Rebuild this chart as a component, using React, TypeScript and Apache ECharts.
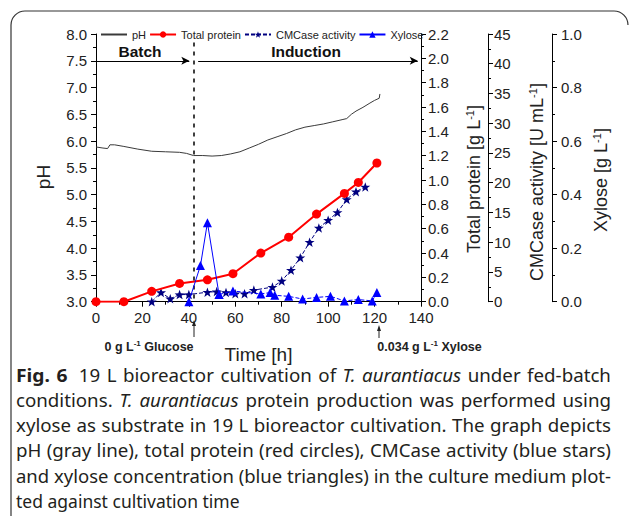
import React, { useEffect, useRef } from 'react';
import * as echarts from 'echarts';

// ---- Data ----
const legendNames = ['pH', 'Total protein', 'CMCase activity', 'Xylose'];

// [time h, pH]
const phData = [
  [0, 5.89], [3, 5.87], [5, 5.86], [6, 5.93], [8, 5.93], [12, 5.9], [18, 5.85], [24, 5.81],
  [30, 5.8], [36, 5.79], [39, 5.77], [42, 5.73], [46, 5.73], [50, 5.72], [54, 5.73], [58, 5.76],
  [62, 5.8], [66, 5.87], [70, 5.94], [74, 6.02], [78, 6.08], [82, 6.14], [86, 6.21], [90, 6.26],
  [94, 6.29], [98, 6.32], [102, 6.36], [106, 6.4], [108, 6.42], [110, 6.5], [112, 6.56],
  [115, 6.63], [118, 6.71], [120, 6.76], [122, 6.8], [122.3, 6.88],
];

// [time h, total protein g/L]
const proteinData = [
  [0, 0], [12, 0], [24, 0.085], [36, 0.15], [48, 0.18], [59, 0.23], [71, 0.4], [83, 0.53],
  [95, 0.72], [107, 0.89], [113, 0.98], [121, 1.14],
];

// [time h, CMCase activity U/mL]
const cmcaseData = [
  [24, 0], [28, 1.55], [32, 0.5], [36, 1.2], [40, 1.2], [48, 1.6], [52, 1.7], [56, 1.55],
  [60, 1.35], [64, 1.35], [68, 1.95], [76, 2.45], [80, 3.5], [84, 5.3], [88, 7.4], [92, 10.0],
  [96, 12.4], [100, 13.7], [104, 15.0], [108, 17.2], [112, 18.5], [116, 19.3],
];

// [time h, xylose g/L] — peak part (solid) and tail part (dashed)
const xylosePeak = [[40, 0], [45, 0.135], [48, 0.295], [53, 0.027]];
const xyloseTail = [
  [53, 0.027], [59, 0.04], [71, 0.029], [75, 0.034], [77, 0.024], [83, 0.02], [89, 0.01],
  [95, 0.016], [101, 0.02], [107, 0.003], [113, 0.008], [119, 0.003], [121, 0.034],
];

const glucoseDepletionTime = 42;
const phaseArrowY = 7.5;

const captionLines = [
  '{b|Fig. 6} 19 L bioreactor cultivation of {i|T. aurantiacus} under fed-batch',
  'conditions. {i|T. aurantiacus} protein production was performed using',
  'xylose as substrate in 19 L bioreactor cultivation. The graph depicts',
  'pH (gray line), total protein (red circles), CMCase activity (blue stars)',
  'and xylose concentration (blue triangles) in the culture medium plot-',
  'ted against cultivation time',
];

const STAR =
  'path://M0,-1L0.235,-0.324L0.951,-0.309L0.38,0.124L0.588,0.809L0,0.4L-0.588,0.809L-0.38,0.124L-0.951,-0.309L-0.235,-0.324Z';

const FONT = "'Liberation Sans', Arial, sans-serif";
const CAP_FONT = "'Noto Sans', 'Open Sans', sans-serif";
const CAP_SIZE = 17.5;
const CAP_BOLD_SIZE = 18;

type Word = { t: string; s: 'n' | 'b' | 'i' };

function parseLine(line: string): Word[] {
  const words: Word[] = [];
  const re = /\{(b|i)\|([^}]*)\}|([^{]+)/g;
  let m: RegExpExecArray | null;
  while ((m = re.exec(line))) {
    const s = (m[1] as 'b' | 'i') || 'n';
    const txt = m[2] !== undefined ? m[2] : m[3];
    txt.split(/\s+/).filter(Boolean).forEach((t) => words.push({ t, s }));
  }
  return words;
}

function fontOf(s: 'n' | 'b' | 'i') {
  if (s === 'b') return `bold ${CAP_BOLD_SIZE}px ${CAP_FONT}`;
  if (s === 'i') return `italic ${CAP_SIZE}px ${CAP_FONT}`;
  return `${CAP_SIZE}px ${CAP_FONT}`;
}

function buildCaption(left: number, right: number, top: number, lineGap: number) {
  const canvas = document.createElement('canvas');
  const ctx = canvas.getContext('2d')!;
  const els: any[] = [];
  const target = right - left;
  captionLines.forEach((line, li) => {
    const words = parseLine(line);
    const widths = words.map((w) => {
      ctx.font = fontOf(w.s);
      return ctx.measureText(w.t).width;
    });
    ctx.font = fontOf('n');
    const space = ctx.measureText(' ').width;
    // extra gap after the bold figure label
    const extra = words.map((w, i) => (w.s === 'b' && words[i + 1] && words[i + 1].s !== 'b' ? 5 : 0));
    const extraSum = extra.reduce((a, b) => a + b, 0);
    const sum = widths.reduce((a, b) => a + b, 0);
    const last = li === captionLines.length - 1;
    const natural = sum + space * (words.length - 1) + extraSum;
    const sx = last ? 1 : Math.min(1.07, Math.max(0.96, target / natural));
    const gap = last || words.length < 2 ? space : (target - sum * sx - extraSum) / (words.length - 1);
    let x = left;
    words.forEach((w, wi) => {
      els.push({
        type: 'text',
        x,
        y: top + li * lineGap,
        scaleX: sx,
        style: {
          text: w.t,
          fontSize: w.s === 'b' ? CAP_BOLD_SIZE : CAP_SIZE,
          fontWeight: w.s === 'b' ? 'bold' : 'normal',
          fontStyle: w.s === 'i' ? 'italic' : 'normal',
          fontFamily: CAP_FONT,
          fill: '#231f20',
          textAlign: 'left',
          textVerticalAlign: 'middle',
        },
      });
      x += widths[wi] * sx + gap + extra[wi];
    });
  });
  return els;
}

export default function App() {
  const ref = useRef<HTMLDivElement>(null);

  useEffect(() => {
    document.body.style.margin = '0';
    if (!ref.current) return;
    const chart = echarts.init(ref.current, null, { renderer: 'svg' });

    const axisCommon = {
      axisLine: { show: true, lineStyle: { color: '#000', width: 1 } },
      axisTick: { show: true, length: 5, lineStyle: { color: '#000' } },
      minorTick: { show: true, splitNumber: 2, length: 3, lineStyle: { color: '#000' } },
      splitLine: { show: false },
      axisLabel: { color: '#222', fontSize: 15, fontFamily: FONT },
    };

    const supRich = {
      n: { fontSize: 18, fontFamily: FONT, color: '#222', lineHeight: 20 },
      s: { fontSize: 11, fontFamily: FONT, color: '#222', verticalAlign: 'top', lineHeight: 20 },
    };

    const rotName = (text: string, x: number, y: number) => ({
      type: 'text',
      x,
      y,
      rotation: Math.PI / 2,
      style: {
        text,
        rich: supRich,
        fontSize: 18,
        fontFamily: FONT,
        fill: '#222',
        textAlign: 'center',
        textVerticalAlign: 'middle',
      },
    });

    const noteRich = {
      n: { fontSize: 12.5, fontWeight: 'bold', fontFamily: FONT, color: '#222', lineHeight: 15 },
      s: { fontSize: 8, fontWeight: 'bold', fontFamily: FONT, color: '#222', verticalAlign: 'top', lineHeight: 15 },
    };

    const option: any = {
      animation: false,
      grid: { left: 96, right: 208, top: 34, bottom: 223.3 },
      legend: {
        data: legendNames.map((n) => (n === 'pH' ? { name: n, itemStyle: { opacity: 0 } } : n)),
        left: 100,
        top: 29,
        padding: 0,
        itemGap: 3,
        itemWidth: 26,
        itemHeight: 8,
        textStyle: { fontSize: 11, fontFamily: FONT, color: '#222' },
      },
      xAxis: {
        type: 'value',
        min: 0,
        max: 140,
        interval: 20,
        name: 'Time [h]',
        nameLocation: 'middle',
        nameGap: 43,
        nameTextStyle: { fontSize: 19, fontFamily: FONT, color: '#222' },
        ...axisCommon,
        axisLabel: { ...axisCommon.axisLabel, margin: 8 },
      },
      yAxis: [
        {
          type: 'value',
          position: 'left',
          min: 3,
          max: 8,
          interval: 0.5,
          ...axisCommon,
          axisLabel: { ...axisCommon.axisLabel, margin: 9, formatter: (v: number) => v.toFixed(1) },
        },
        {
          type: 'value',
          position: 'right',
          min: 0,
          max: 2.2,
          interval: 0.2,
          offset: 0,
          ...axisCommon,
          axisLabel: { ...axisCommon.axisLabel, margin: 7, formatter: (v: number) => v.toFixed(1) },
        },
        {
          type: 'value',
          position: 'right',
          min: 0,
          max: 45,
          interval: 5,
          offset: 67,
          ...axisCommon,
          axisLabel: { ...axisCommon.axisLabel, margin: 6, formatter: (v: number) => String(Math.round(v)) },
        },
        {
          type: 'value',
          position: 'right',
          min: 0,
          max: 1,
          interval: 0.2,
          offset: 131,
          ...axisCommon,
          axisLabel: { ...axisCommon.axisLabel, margin: 9, formatter: (v: number) => v.toFixed(1) },
        },
      ],
      series: [
        {
          name: 'pH',
          type: 'line',
          yAxisIndex: 0,
          data: phData,
          symbol: 'none',
          showSymbol: false,
          lineStyle: { color: '#3a3a3a', width: 1 },
          itemStyle: { color: '#3a3a3a' },
          z: 2,
          markLine: {
            silent: true,
            symbol: ['none', 'arrow'],
            symbolSize: [6, 8],
            label: { show: false },
            lineStyle: { color: '#000', width: 1, type: 'solid' },
            data: [
              [{ coord: [0, phaseArrowY] }, { coord: [40.2, phaseArrowY] }],
              [{ coord: [44, phaseArrowY] }, { coord: [138.6, phaseArrowY] }],
            ],
          },
        },
        {
          name: 'Total protein',
          type: 'line',
          yAxisIndex: 1,
          data: proteinData,
          symbol: 'circle',
          symbolSize: 9,
          lineStyle: { color: '#ff0000', width: 2 },
          itemStyle: { color: '#ff0000' },
          z: 4,
          markLine: {
            silent: true,
            symbol: 'none',
            label: { show: false },
            lineStyle: { color: '#000', width: 1.5, type: [4, 5] },
            data: [[{ coord: [glucoseDepletionTime, 2.13] }, { coord: [glucoseDepletionTime, 0] }]],
          },
        },
        {
          name: 'CMCase activity',
          type: 'line',
          yAxisIndex: 2,
          data: cmcaseData,
          symbol: STAR,
          symbolKeepAspect: true,
          symbolSize: 10,
          lineStyle: { color: '#000080', width: 1, type: [4, 2] },
          itemStyle: { color: '#000080' },
          z: 3,
        },
        {
          name: 'Xylose',
          type: 'line',
          yAxisIndex: 3,
          data: xylosePeak,
          symbol: 'triangle',
          symbolSize: 9,
          lineStyle: { color: '#0000ff', width: 1 },
          itemStyle: { color: '#0000ff' },
          z: 5,
        },
        {
          name: 'Xylose',
          type: 'line',
          yAxisIndex: 3,
          data: xyloseTail,
          symbol: 'triangle',
          symbolSize: 9,
          lineStyle: { color: '#0000ff', width: 1, type: [4, 2] },
          itemStyle: { color: '#0000ff' },
          z: 5,
        },
      ],
      graphic: [
        // frame
        { type: 'line', shape: { x1: 25, y1: 11, x2: 614, y2: 11 }, style: { stroke: '#333', lineWidth: 1.2 } },
        { type: 'line', shape: { x1: 11, y1: 25, x2: 11, y2: 516 }, style: { stroke: '#333', lineWidth: 1.2 } },
        {
          type: 'arc',
          shape: { cx: 25, cy: 25, r: 14, startAngle: Math.PI, endAngle: Math.PI * 1.5 },
          style: { stroke: '#333', lineWidth: 1.2, fill: 'none' },
        },
        {
          type: 'arc',
          shape: { cx: 614, cy: 25, r: 14, startAngle: Math.PI * 1.5, endAngle: Math.PI * 2 },
          style: { stroke: '#333', lineWidth: 1.2, fill: 'none' },
        },
        // phase labels
        {
          type: 'text', x: 140, y: 51,
          style: { text: 'Batch', fontSize: 15.5, fontWeight: 'bold', fontFamily: FONT, fill: '#111', textAlign: 'center', textVerticalAlign: 'middle' },
        },
        {
          type: 'text', x: 306, y: 51,
          style: { text: 'Induction', fontSize: 15.5, fontWeight: 'bold', fontFamily: FONT, fill: '#111', textAlign: 'center', textVerticalAlign: 'middle' },
        },
        // y axis names
        {
          type: 'text', x: 43, y: 177, rotation: Math.PI / 2,
          style: { text: 'pH', fontSize: 19, fontFamily: FONT, fill: '#222', textAlign: 'center', textVerticalAlign: 'middle' },
        },
        rotName('{n|Total protein [g L}{s|-1}{n|]}', 474, 179),
        rotName('{n|CMCase activity [U mL}{s|-1}{n|]}', 537, 182),
        rotName('{n|Xylose [g L}{s|-1}{n|]}', 601, 180),
        // annotations below x axis
        {
          type: 'text', x: 149, y: 347,
          style: { text: '{n|0 g L}{s|-1}{n| Glucose}', rich: noteRich, fontSize: 12.5, fontFamily: FONT, fill: '#222', textAlign: 'center', textVerticalAlign: 'middle' },
        },
        {
          type: 'text', x: 429.5, y: 347,
          style: { text: '{n|0.034 g L}{s|-1}{n| Xylose}', rich: noteRich, fontSize: 12.5, fontFamily: FONT, fill: '#222', textAlign: 'center', textVerticalAlign: 'middle' },
        },
        { type: 'line', shape: { x1: 194, y1: 337, x2: 194, y2: 324 }, style: { stroke: '#222', lineWidth: 1 } },
        { type: 'polygon', shape: { points: [[194, 320], [192, 326], [196, 326]] }, style: { fill: '#222' } },
        { type: 'line', shape: { x1: 379, y1: 338, x2: 379, y2: 329 }, style: { stroke: '#222', lineWidth: 1 } },
        { type: 'polygon', shape: { points: [[379, 325], [377, 331], [381, 331]] }, style: { fill: '#222' } },
        // caption (justified)
        ...buildCaption(16, 611, 375, 25.2),
      ],
    };

    chart.setOption(option);
    return () => chart.dispose();
  }, []);

  return <div ref={ref} style={{ width: 629, height: 525 }} />;
}
